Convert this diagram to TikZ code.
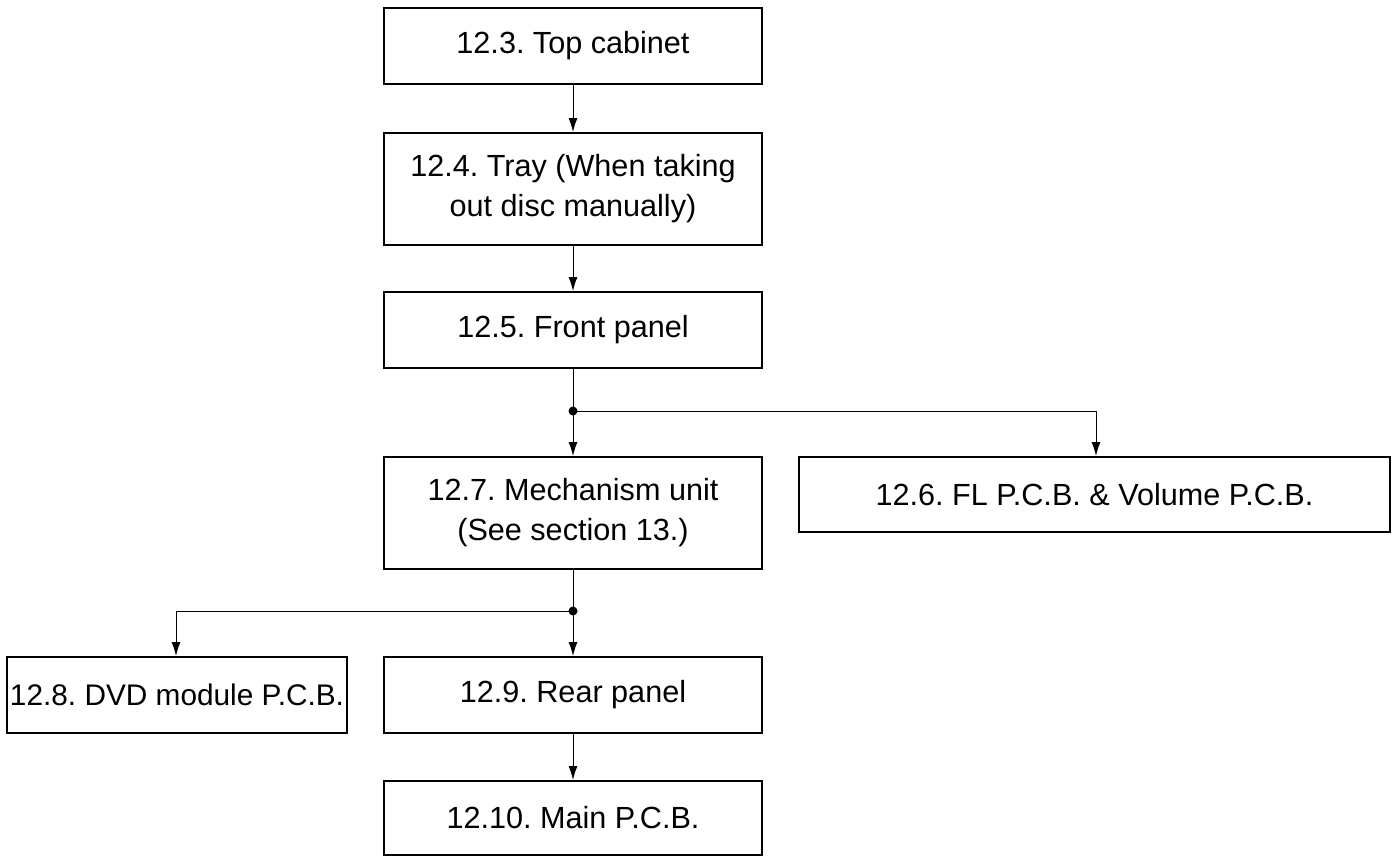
\documentclass[tikz,border=0pt]{standalone}
\usepackage{fontspec}
\setmainfont{Liberation Sans}
\usetikzlibrary{arrows.meta}
\frenchspacing
\begin{document}
\begin{tikzpicture}[x=0.5pt,y=-0.5pt,
  box/.style={draw,line width=1pt,inner sep=0pt,minimum width=189pt,minimum height=38pt,align=center,font=\frenchspacing\fontsize{15.3pt}{20pt}\selectfont},
  tall/.style={minimum height=56pt},
  conn/.style={line width=0.5pt,-{Latex[length=7pt,width=4.5pt]}},
  line/.style={line width=0.5pt},
  dot/.style={circle,fill,inner sep=0pt,minimum size=4.5pt}]
\useasboundingbox (0,0) rectangle (1392,857);
\node[box] (top) at (573,46) {12.3. Top cabinet};
\node[box,tall] (tray) at (573,189) {12.4. Tray (When taking\\out disc manually)};
\node[box] (front) at (573,330) {12.5. Front panel};
\node[box,tall] (mech) at (573,513) {12.7. Mechanism unit\\(See section 13.)};
\node[box,minimum width=295.5pt,minimum height=37.5pt] (fl) at (1094.5,494.5) {12.6. FL P.C.B. \& Volume P.C.B.};
\node[box,minimum width=170pt,font=\frenchspacing\fontsize{14.9pt}{20pt}\selectfont] (dvd) at (177,695) {12.8. DVD module P.C.B.};
\node[box] (rear) at (573,695) {12.9. Rear panel};
\node[box,minimum height=37pt] (main) at (573,818) {12.10. Main P.C.B.};
\node[dot] (j1) at (573,411) {};
\node[dot] (j2) at (573,611) {};
\coordinate (c1) at (1096,411);
\coordinate (c2) at (176,611);
\draw[conn] (top) -- (tray);
\draw[conn] (tray) -- (front);
\draw[line] (front.south) -- (j1.center);
\draw[conn] (j1.center) -- (mech.north);
\draw[conn] (j1.center) -- (c1) -- (c1 |- fl.north);
\draw[line] (mech.south) -- (j2.center);
\draw[conn] (j2.center) -- (rear.north);
\draw[conn] (j2.center) -- (c2) -- (c2 |- dvd.north);
\draw[conn] (rear) -- (main);
\end{tikzpicture}
\end{document}
